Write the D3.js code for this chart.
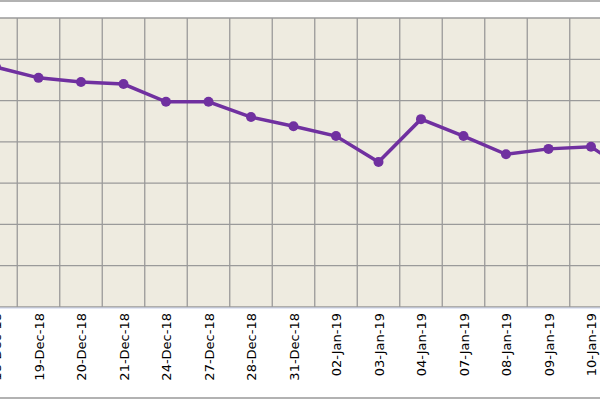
<!DOCTYPE html>
<html>
<head>
<meta charset="utf-8">
<script src="https://cdn.jsdelivr.net/npm/d3@7"></script>
<style>
  body { margin: 0; background: #fff; }
  text { font-family: "DejaVu Sans", Verdana, sans-serif; }
</style>
</head>
<body>
<div class="chart"></div>
<script>
// dates and values (y unit arbitrary, no axis visible)
var dates = ["17-Dec-18", "18-Dec-18", "19-Dec-18", "20-Dec-18", "21-Dec-18", "24-Dec-18", "27-Dec-18",
  "28-Dec-18", "31-Dec-18", "02-Jan-19", "03-Jan-19", "04-Jan-19", "07-Jan-19",
  "08-Jan-19", "09-Jan-19", "10-Jan-19", "11-Jan-19"];
var values = [60.5, 58.1, 55.5, 54.5, 54.0, 49.7, 49.7, 46.0, 43.8, 41.4, 35.1, 45.5, 41.4, 37.0, 38.3, 38.8, 32.0];

var svgWidth = 600;
var svgHeight = 400;
var step = 42.5;

var svg = d3.select(".chart")
  .append("svg")
  .attr("width", svgWidth)
  .attr("height", svgHeight);

// borders of the chart box
svg.append("line").attr("x1", 0).attr("x2", svgWidth).attr("y1", 1).attr("y2", 1)
  .attr("stroke", "#999").attr("stroke-width", 1.5);
svg.append("line").attr("x1", 0).attr("x2", svgWidth).attr("y1", 398).attr("y2", 398)
  .attr("stroke", "#999").attr("stroke-width", 1.5);

var plotTop = 18, plotBottom = 307;

// band scale; first category starts off-screen to the left
var x = d3.scaleBand()
  .domain(dates)
  .range([17.25 - 2 * step, 17.25 + (dates.length - 2) * step]);

var y = d3.scaleLinear()
  .domain([0, 70])
  .range([plotBottom, plotTop]);

svg.append("rect")
  .attr("x", 0).attr("y", plotTop)
  .attr("width", svgWidth).attr("height", plotBottom - plotTop)
  .attr("fill", "#eeebe0");

var grid = svg.append("g").attr("stroke", "#9a9a9a").attr("stroke-width", 1.3);
grid.selectAll("line.h")
  .data(d3.range(0, 71, 10))
  .enter().append("line")
  .attr("x1", 0).attr("x2", svgWidth)
  .attr("y1", d => y(d)).attr("y2", d => y(d));
grid.selectAll("line.v")
  .data(dates)
  .enter().append("line")
  .attr("x1", d => x(d)).attr("x2", d => x(d))
  .attr("y1", plotTop).attr("y2", plotBottom);

svg.append("line").attr("x1", 0).attr("x2", svgWidth).attr("y1", plotBottom + 1).attr("y2", plotBottom + 1)
  .attr("stroke", "#c8d0e8");

var cx = d => x(d) + x.bandwidth() / 2;

var line = d3.line()
  .x((d, i) => cx(dates[i]))
  .y(d => y(d));

svg.append("path")
  .datum(values)
  .attr("d", line)
  .attr("fill", "none")
  .attr("stroke", "#7030a0")
  .attr("stroke-width", 3.5);

svg.selectAll("circle")
  .data(values)
  .enter().append("circle")
  .attr("cx", (d, i) => cx(dates[i]))
  .attr("cy", d => y(d))
  .attr("r", 5)
  .attr("fill", "#7030a0");

svg.selectAll("text.lbl")
  .data(dates)
  .enter().append("text")
  .attr("class", "lbl")
  .attr("transform", d => `translate(${cx(d) + 5}, 313) rotate(-90)`)
  .attr("text-anchor", "end")
  .attr("font-size", "13px")
  .attr("fill", "#000")
  .text(d => d);
</script>
</body>
</html>
